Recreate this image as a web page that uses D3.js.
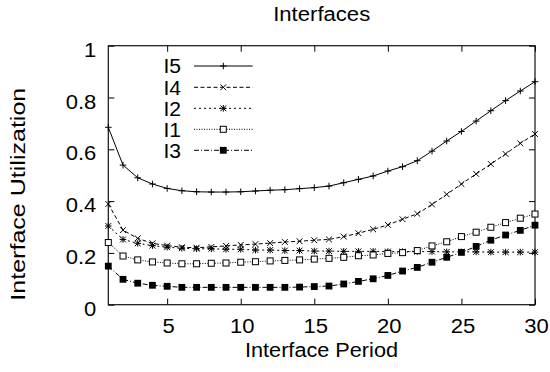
<!DOCTYPE html>
<html>
<head>
<meta charset="utf-8">
<script src="https://cdn.jsdelivr.net/npm/d3@7"></script>
<style>
  html, body { margin: 0; padding: 0; background: #fff; }
  svg { display: block; }
  text { font-family: "Liberation Sans", Arial, Helvetica, sans-serif; fill: #000; }
</style>
</head>
<body>
<svg id="chart" width="550" height="372"></svg>
<script>
// ---- data ----
const periods = [1,2,3,4,5,6,7,8,9,10,11,12,13,14,15,16,17,18,19,20,21,22,23,24,25,26,27,28,29,30];
const I5 = [0.685,0.539,0.490,0.466,0.449,0.440,0.436,0.435,0.435,0.436,0.439,0.442,0.444,0.448,0.452,0.458,0.471,0.484,0.497,0.516,0.533,0.556,0.593,0.632,0.669,0.709,0.749,0.788,0.825,0.861];
const I4 = [0.389,0.288,0.256,0.237,0.228,0.222,0.220,0.223,0.227,0.231,0.234,0.238,0.242,0.245,0.249,0.252,0.263,0.276,0.291,0.308,0.330,0.351,0.387,0.426,0.466,0.505,0.543,0.582,0.623,0.659];
const I2 = [0.304,0.252,0.237,0.228,0.222,0.218,0.216,0.216,0.214,0.214,0.211,0.211,0.209,0.209,0.207,0.207,0.206,0.206,0.206,0.205,0.205,0.205,0.205,0.204,0.204,0.204,0.203,0.203,0.203,0.203];
const I1 = [0.240,0.188,0.173,0.165,0.161,0.158,0.158,0.160,0.161,0.164,0.166,0.169,0.171,0.173,0.176,0.179,0.183,0.189,0.192,0.198,0.201,0.209,0.227,0.243,0.263,0.280,0.299,0.317,0.334,0.350];
const I3 = [0.149,0.098,0.083,0.075,0.071,0.067,0.067,0.067,0.067,0.067,0.067,0.067,0.067,0.068,0.070,0.072,0.080,0.090,0.100,0.113,0.130,0.144,0.164,0.183,0.202,0.225,0.249,0.269,0.287,0.307];
const seriesNames = ["I5","I4","I2","I1","I3"];
const xTicks = [5,10,15,20,25,30];
const yTicks = [0,0.2,0.4,0.6,0.8,1];
const titleText = "Interfaces";
const xLabel = "Interface Period";
const yLabel = "Interface Utilization";

// ---- styles ----
const seriesValues = {I5, I4, I2, I1, I3};
const dashes = {I5: null, I4: "4,2.5", I2: "2,3", I1: "1,1.5", I3: "5,2,1,2"};
const markers = {I5: "plus", I4: "cross", I2: "star", I1: "box", I3: "fbox"};

const svg = d3.select("#chart");
const L = 108.3, R = 535, T = 45.7, B = 304.7;
const x = d3.scaleLinear().domain([1, 30]).range([L, R]);
const y = d3.scaleLinear().domain([0, 1]).range([B, T]);
const FS = 19.5;

function stretch(sel, f) {
  sel.each(function() {
    const w = this.getComputedTextLength();
    d3.select(this).attr("textLength", w * f).attr("lengthAdjust", "spacingAndGlyphs");
  });
}

// axes (inward ticks)
const gx = svg.append("g").attr("transform", `translate(0,${B})`)
  .call(d3.axisBottom(x).tickValues(xTicks).tickSizeInner(-6).tickSizeOuter(0).tickFormat(d3.format("d")));
gx.select(".domain").remove();
gx.selectAll("line").attr("stroke", "#000");
gx.selectAll("text").attr("font-size", FS).attr("dy", null).attr("y", 28.5).attr("x", 1);
stretch(gx.selectAll("text"), 1.13);

const gxt = svg.append("g").attr("transform", `translate(0,${T})`)
  .call(d3.axisTop(x).tickValues(xTicks).tickSizeInner(-6).tickSizeOuter(0).tickFormat(""));
gxt.select(".domain").remove();
gxt.selectAll("line").attr("stroke", "#000");

const gy = svg.append("g").attr("transform", `translate(${L},0)`)
  .call(d3.axisLeft(y).tickValues(yTicks).tickSizeInner(-6).tickSizeOuter(0).tickFormat(d => d3.format("")(+d.toFixed(1))));
gy.select(".domain").remove();
gy.selectAll("line").attr("stroke", "#000");
gy.selectAll("text").attr("font-size", FS).attr("dy", null).attr("x", -12).attr("y", 10.5).attr("text-anchor", "end");
stretch(gy.selectAll("text"), 1.13);

const gyr = svg.append("g").attr("transform", `translate(${R},0)`)
  .call(d3.axisRight(y).tickValues(yTicks).tickSizeInner(-6).tickSizeOuter(0).tickFormat(""));
gyr.select(".domain").remove();
gyr.selectAll("line").attr("stroke", "#000");

// frame
svg.append("rect").attr("x", L).attr("y", T).attr("width", R - L).attr("height", B - T)
  .attr("fill", "none").attr("stroke", "#111").attr("stroke-width", 1.2);

// titles
svg.append("text").attr("x", 321.7).attr("y", 20.7).attr("text-anchor", "middle")
  .attr("font-size", FS).text(titleText).attr("textLength", 97).attr("lengthAdjust", "spacingAndGlyphs");
svg.append("text").attr("x", 321.5).attr("y", 357).attr("text-anchor", "middle")
  .attr("font-size", FS).text(xLabel).attr("textLength", 153).attr("lengthAdjust", "spacingAndGlyphs");
svg.append("text").attr("transform", "translate(25,194.2) rotate(-90)").attr("text-anchor", "middle")
  .attr("font-size", FS).text(yLabel).attr("textLength", 213).attr("lengthAdjust", "spacingAndGlyphs");

// marker drawing
function drawMarker(g, type, cx, cy) {
  const s = 3.3;
  if (type === "plus" || type === "star") {
    g.append("path").attr("d", `M${cx - s},${cy}H${cx + s}M${cx},${cy - s}V${cy + s}`)
      .attr("stroke", "#000").attr("stroke-width", 1).attr("fill", "none");
  }
  if (type === "cross" || type === "star") {
    const c = 2.9;
    g.append("path").attr("d", `M${cx - c},${cy - c}L${cx + c},${cy + c}M${cx - c},${cy + c}L${cx + c},${cy - c}`)
      .attr("stroke", "#000").attr("stroke-width", 1).attr("fill", "none");
  }
  if (type === "box") {
    g.append("rect").attr("x", cx - 3).attr("y", cy - 3).attr("width", 6).attr("height", 6)
      .attr("fill", "#fff").attr("stroke", "#000").attr("stroke-width", 1);
  }
  if (type === "fbox") {
    g.append("rect").attr("x", cx - 3.4).attr("y", cy - 3.4).attr("width", 6.8).attr("height", 6.8)
      .attr("fill", "#000");
  }
}

const line = d3.line().x((d, i) => x(periods[i])).y(d => y(d));
const plot = svg.append("g");
seriesNames.forEach(name => {
  const vals = seriesValues[name];
  plot.append("path").datum(vals).attr("d", line)
    .attr("fill", "none").attr("stroke", "#000").attr("stroke-width", 1)
    .attr("stroke-dasharray", dashes[name]);
});
seriesNames.forEach(name => {
  const vals = seriesValues[name];
  const g = plot.append("g");
  vals.forEach((v, i) => drawMarker(g, markers[name], x(periods[i]), y(v)));
});

// legend
const legendY = [66, 87.3, 108.3, 129.3, 150.3];
const leg = svg.append("g");
seriesNames.forEach((name, k) => {
  const ly = legendY[k];
  const t = leg.append("text").attr("x", 181).attr("y", ly + 7.3).attr("text-anchor", "end")
    .attr("font-size", FS).text(name);
  stretch(t, 1.08);
  leg.append("line").attr("x1", 194).attr("x2", 252.7).attr("y1", ly).attr("y2", ly)
    .attr("stroke", "#000").attr("stroke-width", 1).attr("stroke-dasharray", dashes[name]);
  drawMarker(leg, markers[name], 223.3, ly);
});
</script>
</body>
</html>
